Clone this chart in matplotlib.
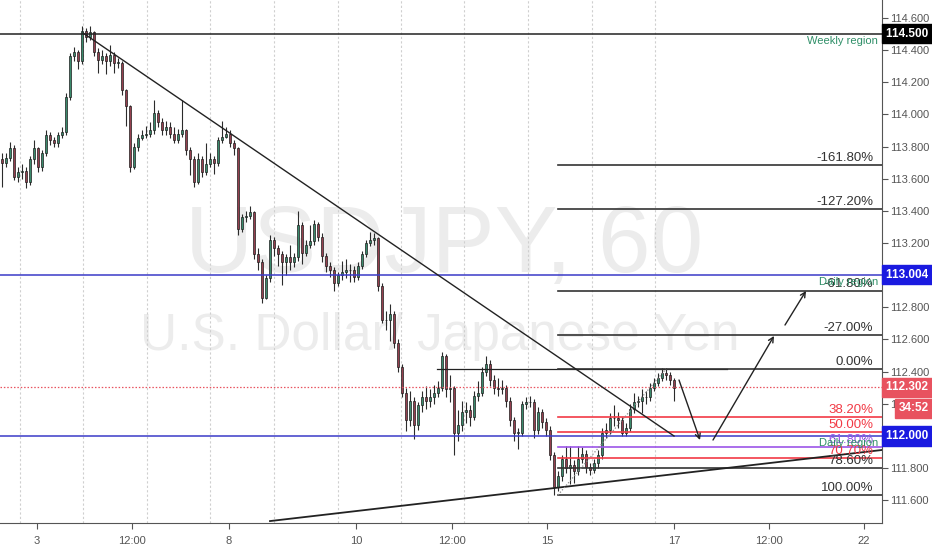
import matplotlib
matplotlib.use('Agg')
import matplotlib.pyplot as plt
import matplotlib.transforms as mtransforms
import numpy as np

plt.rcParams['font.family'] = ['Liberation Sans', 'DejaVu Sans']

# hourly USDJPY candles
first_open = 113.72
closes = [
    113.70, 113.73, 113.79, 113.61, 113.64, 113.65, 113.58, 113.72, 113.79, 113.67,
    113.76, 113.87, 113.84, 113.82, 113.87, 113.89, 114.11, 114.36, 114.39, 114.33,
    114.52, 114.48, 114.51, 114.39, 114.34, 114.36, 114.33, 114.37, 114.32, 114.32,
    114.15, 114.05, 113.67, 113.80, 113.85, 113.87, 113.88, 113.90, 114.01, 113.95,
    113.90, 113.92, 113.88, 113.84, 113.88, 113.90, 113.78, 113.72, 113.58, 113.72,
    113.64, 113.69, 113.72, 113.70, 113.84, 113.86, 113.88, 113.82, 113.79, 113.29,
    113.36, 113.37, 113.39, 113.13, 113.08, 112.86, 112.98, 113.22, 113.17, 113.13,
    113.08, 113.11, 113.08, 113.11, 113.31, 113.14, 113.19, 113.21, 113.32, 113.24,
    113.12, 113.06, 113.03, 112.95, 113.00, 113.02, 113.03, 113.03, 112.99, 113.06,
    113.13, 113.20, 113.22, 113.23, 112.93, 112.72, 112.72, 112.76, 112.58, 112.43,
    112.27, 112.10, 112.22, 112.07, 112.19, 112.24, 112.22, 112.24, 112.27, 112.30,
    112.50, 112.29, 112.30, 112.02, 112.07, 112.15, 112.16, 112.12, 112.25, 112.27,
    112.40, 112.45, 112.35, 112.30, 112.29, 112.30, 112.22, 112.10, 112.02, 112.02,
    112.20, 112.21, 112.21, 112.04, 112.15, 112.09, 112.04, 111.88, 111.68, 111.75,
    111.86, 111.80, 111.82, 111.78, 111.86, 111.89, 111.81, 111.79, 111.83, 111.88,
    112.02, 112.04, 112.11, 112.11, 112.10, 112.02, 112.05, 112.17, 112.21, 112.22,
    112.24, 112.24, 112.30, 112.33, 112.36, 112.39, 112.38, 112.35, 112.30,
]
highs = [
    113.76, 113.76, 113.83, 113.81, 113.67, 113.69, 113.67, 113.74, 113.84, 113.80,
    113.78, 113.90, 113.89, 113.86, 113.89, 113.92, 114.13, 114.38, 114.42, 114.40,
    114.55, 114.54, 114.55, 114.52, 114.41, 114.40, 114.38, 114.43, 114.39, 114.35,
    114.33, 114.16, 114.06, 113.82, 113.88, 113.90, 113.93, 113.95, 114.09, 114.03,
    113.98, 113.96, 113.95, 113.92, 113.91, 114.09, 113.91, 113.80, 113.74, 113.76,
    113.74, 113.82, 113.76, 113.74, 113.86, 113.96, 113.92, 113.90, 113.84, 113.80,
    113.38, 113.40, 113.43, 113.40, 113.17, 113.10, 113.00, 113.25, 113.24, 113.19,
    113.15, 113.13, 113.19, 113.14, 113.40, 113.33, 113.22, 113.31, 113.34, 113.33,
    113.26, 113.14, 113.08, 113.05, 113.02, 113.09, 113.10, 113.07, 113.06, 113.08,
    113.15, 113.22, 113.27, 113.26, 113.24, 112.95, 112.78, 112.82, 112.78, 112.60,
    112.45, 112.30, 112.28, 112.24, 112.21, 112.28, 112.31, 112.29, 112.32, 112.34,
    112.52, 112.51, 112.38, 112.31, 112.16, 112.22, 112.21, 112.19, 112.28, 112.34,
    112.43, 112.50, 112.47, 112.38, 112.36, 112.35, 112.32, 112.24, 112.12, 112.05,
    112.22, 112.24, 112.25, 112.23, 112.18, 112.17, 112.11, 112.06, 111.90, 111.78,
    111.88, 111.94, 111.94, 111.85, 111.94, 111.93, 111.91, 111.83, 111.86, 111.91,
    112.05, 112.08, 112.14, 112.19, 112.15, 112.12, 112.08, 112.20, 112.27, 112.25,
    112.29, 112.28, 112.33, 112.36, 112.39, 112.42, 112.42, 112.40, 112.36,
]
lows = [
    113.55, 113.67, 113.71, 113.59, 113.58, 113.60, 113.54, 113.56, 113.69, 113.64,
    113.65, 113.74, 113.81, 113.80, 113.80, 113.85, 113.87, 114.09, 114.33, 114.28,
    114.31, 114.45, 114.46, 114.36, 114.26, 114.31, 114.25, 114.30, 114.26, 114.29,
    114.12, 113.93, 113.64, 113.66, 113.77, 113.84, 113.85, 113.86, 113.88, 113.92,
    113.87, 113.87, 113.85, 113.82, 113.82, 113.86, 113.75, 113.62, 113.55, 113.57,
    113.61, 113.62, 113.67, 113.63, 113.68, 113.82, 113.85, 113.80, 113.75, 113.25,
    113.27, 113.33, 113.35, 113.10, 113.03, 112.83, 112.85, 112.96, 113.12, 113.06,
    112.94, 113.00, 113.03, 113.05, 113.09, 113.07, 113.12, 113.17, 113.19, 113.21,
    113.08, 113.02, 112.99, 112.90, 112.93, 112.97, 112.98, 112.96, 112.96, 112.97,
    113.04, 113.11, 113.18, 113.19, 112.90, 112.70, 112.66, 112.59, 112.55, 112.40,
    112.24, 112.03, 112.06, 111.98, 112.04, 112.15, 112.17, 112.18, 112.20, 112.24,
    112.28, 112.24, 112.21, 111.88, 111.97, 112.03, 112.08, 112.06, 112.10, 112.22,
    112.25, 112.37, 112.31, 112.26, 112.25, 112.26, 112.18, 112.06, 111.97, 111.92,
    112.00, 112.17, 112.18, 111.99, 112.01, 112.05, 112.00, 111.85, 111.63, 111.66,
    111.72, 111.77, 111.70, 111.71, 111.76, 111.83, 111.77, 111.76, 111.77, 111.80,
    111.86, 111.99, 112.01, 112.06, 112.05, 112.00, 112.00, 112.03, 112.14, 112.18,
    112.14, 112.20, 112.22, 112.28, 112.31, 112.34, 112.35, 112.32, 112.22,
]

# axis labels
xtick_pos = [8.75, 32.5, 56.75, 88.5, 112.5, 136.25, 168, 191.75, 215.5]
xtick_labels = ['3', '12:00', '8', '10', '12:00', '15', '17', '12:00', '22']
vgrid_pos = [4.5, 20.25, 36.25, 52, 68, 84, 99.75, 115.5, 131.5, 147.5, 163.25]
yticks = [111.6, 111.8, 112.0, 112.2, 112.4, 112.6, 112.8, 113.0, 113.2,
          113.4, 113.6, 113.8, 114.0, 114.2, 114.4, 114.6]
hidden_yticks = [112.0, 113.0]   # covered by the price tags

# drawings
weekly_level = 114.500
daily_levels = [113.004, 112.000]
last_price = 112.302
countdown = '34:52'
fib_p0, fib_p100 = 112.417, 111.633
fib_start, fib_end = 139, 166
fib_levels = [-1.618, -1.272, -0.618, -0.27, 0.0, 0.382, 0.5, 0.618, 0.707, 0.786, 1.0]
fib_names = ['-161.80%', '-127.20%', '-61.80%', '-27.00%', '0.00%', '38.20%',
             '50.00%', '61.80%', '70.70%', '78.60%', '100.00%']
fib_colors = ['#333333', '#333333', '#333333', '#333333', '#333333', '#f23a45',
              '#f23a45', '#9c55e8', '#f23a45', '#333333', '#333333']
hline_x = (108.75, 181.25)
down_trend = [(20.25, 114.506), (168, 112.0)]
up_trend = [(67, 111.471), (220, 111.913)]
arrows = [((169.25, 112.348), (174.5, 111.975)),
          ((177.75, 111.975), (193, 112.622)),
          ((195.75, 112.690), (201, 112.902))]

opens = [first_open] + closes[:-1]
x = np.arange(len(closes))
o = np.array(opens)
c = np.array(closes)

fig = plt.figure(figsize=(9.32, 5.5), dpi=100)
ax = fig.add_axes([0, 27 / 550, 882 / 932, 523 / 550])
ax.set_xlim(-0.5, 220)
ax.set_ylim(111.459, 114.711)

# watermark
ax.text(444 / 932, 1 - 272 / 550, 'USDJPY, 60', transform=fig.transFigure,
        ha='center', va='baseline', fontsize=68, color='#ececec', zorder=0)
ax.text(440 / 932, 1 - 350 / 550, 'U.S. Dollar/ Japanese Yen', transform=fig.transFigure,
        ha='center', va='baseline', fontsize=37, color='#ececec', zorder=0)

for gx in vgrid_pos:
    ax.axvline(gx, color='#cfcfcf', lw=0.8, ls=(0, (2, 2)), zorder=0.5)

# candles
up = c >= o
body_col = np.where(up, '#3b8a6c', '#94404f')
ax.vlines(x, lows, highs, color='#2b2b2b', lw=0.8, zorder=2)
ax.bar(x, np.maximum(np.abs(c - o), 0.004), bottom=np.minimum(o, c), width=0.72,
       color=body_col, edgecolor='#1e1e1e', linewidth=0.5, zorder=3)

# horizontal levels
ax.axhline(weekly_level, color='#222222', lw=1.1, zorder=4)
for lv in daily_levels:
    ax.axhline(lv, color='#3a3ac8', lw=1.1, zorder=4)
ax.axhline(last_price, color='#e8525f', lw=0.9, ls=(0, (1.2, 1.5)), zorder=4)
ax.plot(hline_x, [fib_p0, fib_p0], color='#222222', lw=0.9, zorder=4)

# trend lines
ax.plot(*zip(*down_trend), color='#222222', lw=1.0, zorder=5)
ax.plot(*zip(*up_trend), color='#222222', lw=1.3, zorder=5)
ax.plot([fib_start, fib_end], [fib_p100, fib_p0], color='#8a8a8a', lw=0.9,
        ls=(0, (1, 1.5)), zorder=5)

# fibonacci extension
for lvl, name, col in zip(fib_levels, fib_names, fib_colors):
    p = fib_p0 - (fib_p0 - fib_p100) * lvl
    ax.plot([fib_start, 220], [p, p], color=col, lw=1.2, zorder=4)
    ax.annotate(name, xy=(217.8, p), xytext=(0, 1), textcoords='offset pixels',
                ha='right', va='bottom', fontsize=9.5, color=col, zorder=6)

for (x0, y0), (x1, y1) in arrows:
    ax.annotate('', xy=(x1, y1), xytext=(x0, y0),
                arrowprops=dict(arrowstyle='->', color='#222222', lw=1.0,
                                mutation_scale=9, shrinkA=0, shrinkB=0), zorder=6)

# region labels
ax.annotate('Weekly region', xy=(219, weekly_level), xytext=(0, -2), textcoords='offset pixels',
            ha='right', va='top', fontsize=8, color='#2f8f68', zorder=6)
for lv in daily_levels:
    ax.annotate('Daily region', xy=(219, lv), xytext=(0, -2), textcoords='offset pixels',
                ha='right', va='top', fontsize=8, color='#2f8f68', zorder=6)

# axes styling
for s in ['top', 'left']:
    ax.spines[s].set_visible(False)
for s in ['right', 'bottom']:
    ax.spines[s].set_color('#555555')
ax.yaxis.tick_right()
ax.set_yticks(yticks)
ax.set_yticklabels(['' if v in hidden_yticks else f'{v:.3f}' for v in yticks])
ax.set_xticks(xtick_pos)
ax.set_xticklabels(xtick_labels)
ax.tick_params(axis='y', length=4, color='#555555', labelcolor='#555555',
               labelsize=8, pad=2)
ax.tick_params(axis='x', length=4, color='#555555', labelcolor='#555555',
               labelsize=8, pad=5)

# price tags on the scale
trans = mtransforms.blended_transform_factory(ax.transAxes, ax.transData)
tags = [(weekly_level, '114.500', '#000000'), (daily_levels[0], '113.004', '#1a1ae0'),
        (last_price, '112.302', '#e8525f'), (daily_levels[1], '112.000', '#1a1ae0')]
for lv, txt, fc in tags:
    ax.annotate(txt + ' ', xy=(1, lv), xycoords=trans, xytext=(4, 0), textcoords='offset pixels',
                ha='left', va='center', fontsize=8.5, color='white', fontweight='bold',
                bbox=dict(boxstyle='square,pad=0.3', fc=fc, ec=fc), annotation_clip=False,
                zorder=10)
ax.annotate(countdown, xy=(1, last_price), xycoords=trans, xytext=(17, -21),
            textcoords='offset pixels', ha='left', va='center', fontsize=8.5,
            color='white', fontweight='bold',
            bbox=dict(boxstyle='square,pad=0.3', fc='#e8525f', ec='#e8525f'),
            annotation_clip=False, zorder=10)

fig.savefig('out.png', dpi=100)
